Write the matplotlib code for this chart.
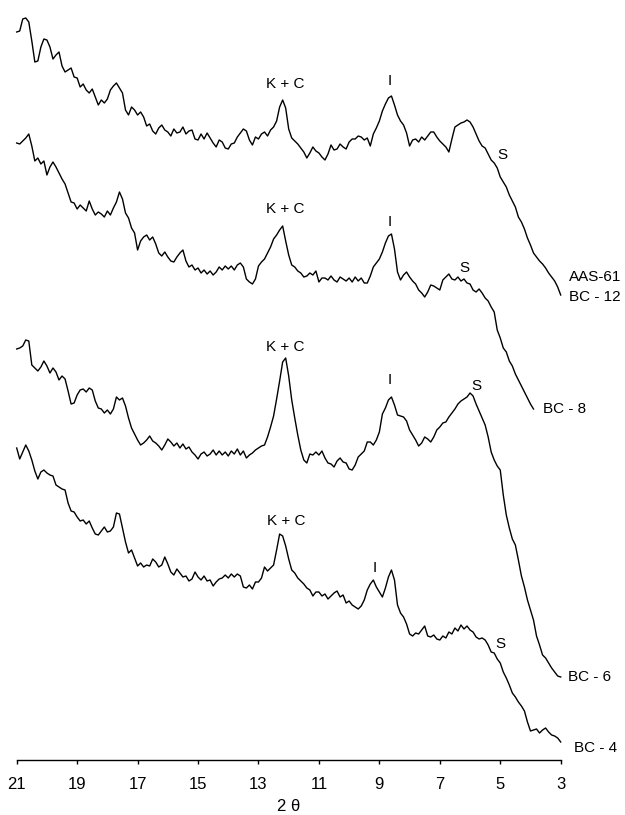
import numpy as np
import matplotlib
matplotlib.use('Agg')
import matplotlib.pyplot as plt

plt.rcParams['font.family'] = ['Liberation Sans', 'DejaVu Sans']

# --- data: step scans, 21 -> 3 deg 2theta, 0.1 deg step ---
two_theta = np.linspace(21, 3, 181)

# intensities (arb. units), already offset so the patterns stack
bc12 = [728, 729, 741, 742, 738, 719, 698, 699, 713, 721,
        720, 713, 701, 705, 708, 694, 688, 690, 692, 683,
        682, 673, 676, 670, 667, 671, 663, 655, 660, 657,
        661, 670, 674, 677, 672, 667, 650, 645, 653, 650,
        645, 648, 643, 634, 636, 629, 626, 632, 635, 630,
        628, 624, 631, 627, 628, 633, 626, 629, 630, 621,
        620, 626, 621, 627, 622, 617, 613, 620, 618, 612,
        611, 616, 617, 623, 627, 631, 629, 620, 615, 623,
        621, 626, 628, 624, 630, 633, 639, 653, 660, 652,
        631, 622, 619, 616, 612, 608, 602, 607, 613, 609,
        607, 603, 600, 606, 615, 610, 611, 616, 613, 611,
        618, 621, 621, 624, 623, 620, 622, 614, 626, 632,
        639, 649, 656, 662, 664, 655, 645, 639, 635, 627,
        614, 620, 621, 618, 623, 620, 624, 628, 628, 623,
        619, 616, 613, 608, 621, 633, 635, 637, 638, 640,
        638, 633, 626, 619, 614, 612, 606, 600, 597, 592,
        583, 578, 573, 565, 559, 553, 543, 538, 531, 522,
        515, 507, 503, 499, 496, 492, 487, 483, 479, 473,
        465]

bc8 = [617, 616, 619, 622, 626, 614, 599, 602, 596, 599,
       585, 593, 598, 593, 587, 581, 576, 567, 558, 557,
       551, 555, 552, 549, 559, 551, 545, 548, 546, 543,
       549, 545, 552, 558, 568, 561, 547, 542, 532, 527,
       510, 519, 523, 525, 520, 523, 516, 507, 504, 508,
       503, 499, 498, 503, 507, 510, 499, 493, 495, 490,
       492, 487, 490, 486, 489, 485, 488, 493, 490, 494,
       491, 494, 490, 495, 497, 493, 481, 478, 476, 481,
       494, 498, 501, 507, 513, 521, 525, 530, 534, 519,
       505, 495, 493, 489, 487, 483, 484, 487, 485, 489,
       478, 482, 482, 480, 484, 480, 478, 483, 481, 479,
       482, 478, 483, 479, 482, 477, 477, 484, 493, 497,
       501, 508, 517, 524, 526, 511, 488, 480, 485, 488,
       483, 479, 476, 470, 467, 463, 468, 475, 474, 472,
       470, 480, 483, 486, 481, 480, 483, 479, 481, 477,
       476, 470, 468, 471, 467, 462, 459, 453, 448, 430,
       422, 412, 408, 399, 394, 386, 380, 374, 368, 362,
       356, 351]

bc6 = [411, 412, 414, 420, 419, 395, 392, 389, 393, 399,
       394, 387, 392, 388, 380, 384, 381, 369, 356, 357,
       365, 370, 371, 368, 372, 370, 359, 352, 351, 347,
       350, 346, 351, 363, 360, 362, 354, 342, 332, 326,
       320, 315, 317, 320, 324, 319, 317, 314, 310, 315,
       321, 318, 314, 317, 312, 316, 311, 313, 308, 305,
       301, 306, 308, 304, 306, 310, 305, 309, 305, 308,
       304, 309, 306, 311, 305, 309, 302, 305, 307, 310,
       312, 314, 315, 323, 333, 344, 361, 379, 398, 402,
       384, 360, 342, 325, 310, 300, 297, 306, 305, 308,
       305, 309, 302, 297, 296, 293, 299, 302, 298, 297,
       291, 290, 295, 303, 306, 309, 318, 318, 315, 320,
       328, 346, 352, 360, 363, 355, 345, 344, 343, 339,
       330, 325, 320, 314, 317, 323, 321, 318, 323, 330,
       333, 337, 338, 343, 347, 351, 356, 359, 361, 363,
       367, 364, 356, 349, 342, 335, 323, 308, 300, 294,
       290, 265, 245, 232, 221, 215, 200, 184, 173, 160,
       150, 140, 124, 115, 105, 102, 97, 92, 88, 84,
       83]

bc4 = [312, 301, 308, 315, 309, 300, 289, 281, 288, 290,
       287, 285, 284, 275, 273, 271, 270, 257, 249, 248,
       243, 239, 240, 236, 239, 232, 226, 225, 229, 233,
       228, 229, 233, 247, 246, 232, 218, 207, 210, 202,
       194, 197, 193, 195, 194, 201, 198, 193, 195, 203,
       196, 188, 185, 191, 187, 183, 184, 179, 181, 188,
       183, 180, 184, 179, 180, 174, 178, 181, 182, 185,
       182, 186, 183, 186, 184, 173, 172, 175, 171, 178,
       178, 182, 193, 189, 192, 195, 210, 226, 224, 214,
       201, 190, 187, 182, 179, 176, 172, 170, 164, 168,
       168, 164, 166, 161, 164, 167, 169, 163, 165, 157,
       159, 155, 153, 151, 154, 160, 170, 176, 180, 173,
       168, 163, 172, 183, 190, 180, 155, 147, 143, 136,
       126, 124, 127, 126, 130, 134, 124, 123, 125, 121,
       120, 124, 122, 128, 126, 132, 129, 135, 131, 134,
       130, 128, 123, 121, 122, 120, 115, 108, 107, 101,
       97, 88, 82, 75, 67, 63, 58, 54, 49, 38,
       29, 30, 31, 27, 30, 32, 28, 25, 24, 22,
       18]

patterns = [bc12, bc8, bc6, bc4]

# peak labels: K + C (kaolinite + chlorite), I (illite), S (smectite)
peak_names = ['K + C', 'I', 'S']
peak_2theta = [[12.12, 8.65, 4.93],
               [12.12, 8.65, 6.17],
               [12.12, 8.67, 5.80],
               [12.09, 9.14, 5.01]]
peak_height = [[676, 679, 605],
               [551, 538, 492],
               [413, 380, 374],
               [239, 192, 116]]

# sample names at the end of each pattern
sample_names = ['AAS-61', 'BC - 12', 'BC - 8', 'BC - 6', 'BC - 4']
sample_2theta = [2.72, 2.72, 3.59, 2.77, 2.56]
sample_height = [483, 463, 351, 83, 12]

# --- plot ---
fig = plt.figure(figsize=(6.25, 8.15), dpi=100)
ax = fig.add_axes([16.7 / 625, 55 / 815, 544 / 625, 760 / 815])

for vals in patterns:
    ax.plot(two_theta[:len(vals)], vals, color='black', linewidth=1.0, clip_on=False)

for xs, ys in zip(peak_2theta, peak_height):
    for name, x, y in zip(peak_names, xs, ys):
        ax.text(x, y, name, ha='center', va='center', fontsize=11)

for name, x, y in zip(sample_names, sample_2theta, sample_height):
    ax.text(x, y, name, ha='left', va='center', fontsize=11)

ax.set_xlim(21, 3)
ax.set_ylim(0, 760)
for s in ['left', 'right', 'top']:
    ax.spines[s].set_visible(False)
ax.spines['bottom'].set_linewidth(1.0)
ax.set_yticks([])
ax.set_xticks(np.arange(21, 2, -2))
ax.set_xticklabels([str(t) for t in range(21, 2, -2)])
ax.tick_params(axis='x', direction='out', length=3, width=1.0, pad=9, labelsize=12)
ax.set_xlabel('2 θ', fontsize=12, labelpad=5)

fig.savefig('out.png', dpi=100)
